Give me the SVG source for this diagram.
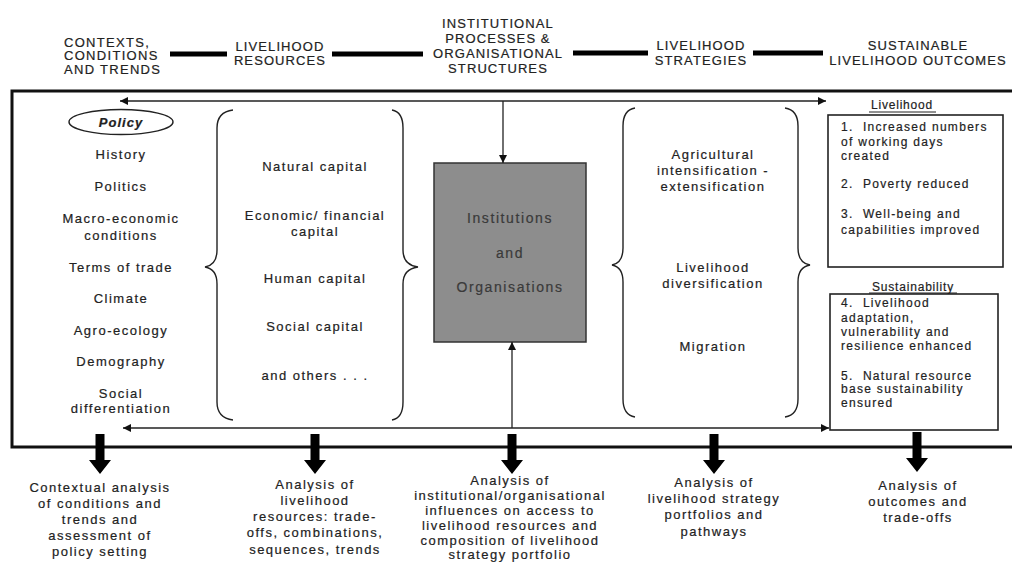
<svg xmlns="http://www.w3.org/2000/svg" width="1012" height="564" viewBox="0 0 1012 564">
<style>
text{font-family:"Liberation Sans",Arial,sans-serif;fill:#222;stroke:#222;stroke-width:0.2}
.hd{font-size:13px;letter-spacing:1.1px;text-anchor:middle}
.hdl{font-size:13px;letter-spacing:1.3px}
.b{font-size:13px;letter-spacing:1.5px;text-anchor:middle}
.r{font-size:12px;letter-spacing:1.3px}
.io{font-size:14px;letter-spacing:1.6px;text-anchor:middle;fill:#3a3a3a;stroke:#3a3a3a;stroke-width:0.2}
.bar{stroke:#000;stroke-width:5}
.frame{fill:none;stroke:#111;stroke-width:3}
.ln{fill:none;stroke:#222;stroke-width:1.3}
.brace{fill:none;stroke:#222;stroke-width:1.4}
.box{fill:#fff;stroke:#222;stroke-width:1.6}
.big{fill:#000}
</style>
<defs>
<marker id="ah" viewBox="0 0 10 10" refX="10" refY="5" markerWidth="10" markerHeight="8" markerUnits="userSpaceOnUse" orient="auto-start-reverse">
<path d="M0,0 L10,5 L0,10 z" fill="#111"/>
</marker>
<path id="bigarrow" d="M-4.5,0 L4.5,0 L4.5,26 L11,26 L0,40 L-11,26 L-4.5,26 z"/>
</defs>

<g id="header">
<text class="hdl" x="64" y="47">CONTEXTS,</text>
<text class="hdl" x="64" y="60">CONDITIONS</text>
<text class="hdl" x="64" y="74">AND TRENDS</text>
<line class="bar" x1="170" y1="54" x2="227" y2="54"/>
<text class="hd" x="280" y="51">LIVELIHOOD</text>
<text class="hd" x="280" y="65">RESOURCES</text>
<line class="bar" x1="332" y1="54" x2="423" y2="54"/>
<text class="hd" x="498" y="28">INSTITUTIONAL</text>
<text class="hd" x="498" y="43">PROCESSES &amp;</text>
<text class="hd" x="498" y="58">ORGANISATIONAL</text>
<text class="hd" x="498" y="73">STRUCTURES</text>
<line class="bar" x1="573" y1="53" x2="648" y2="53"/>
<text class="hd" x="701" y="50">LIVELIHOOD</text>
<text class="hd" x="701" y="65">STRATEGIES</text>
<line class="bar" x1="753" y1="53" x2="823" y2="53"/>
<text class="hd" x="918" y="50">SUSTAINABLE</text>
<text class="hd" x="918" y="65">LIVELIHOOD OUTCOMES</text>
</g>

<g id="frame">
<path class="frame" d="M1012,91 L12,91 L12,447 L1012,447"/>
</g>

<g id="contexts">
<ellipse cx="121" cy="122" rx="52" ry="12.5" fill="none" stroke="#222" stroke-width="1.4"/>
<text class="b" x="121" y="127" style="font-weight:bold;font-style:italic;letter-spacing:1px">Policy</text>
<text class="b" x="121" y="159">History</text>
<text class="b" x="121" y="191">Politics</text>
<text class="b" x="121" y="223">Macro-economic</text>
<text class="b" x="121" y="240">conditions</text>
<text class="b" x="121" y="272">Terms of trade</text>
<text class="b" x="121" y="303">Climate</text>
<text class="b" x="121" y="335">Agro-ecology</text>
<text class="b" x="121" y="366">Demography</text>
<text class="b" x="121" y="398">Social</text>
<text class="b" x="121" y="413">differentiation</text>
</g>

<g id="resources">
<path class="brace" d="M233,110 Q217,112 217,128 L217,250 Q217,265 205,267 Q217,269 217,284 L217,402 Q217,418 233,420"/>
<path class="brace" d="M392,110 Q403,112 403,128 L403,250 Q403,265 418,267 Q403,269 403,284 L403,402 Q403,418 392,420"/>
<text class="b" x="315" y="171">Natural capital</text>
<text class="b" x="315" y="220">Economic/ financial</text>
<text class="b" x="315" y="236">capital</text>
<text class="b" x="315" y="283">Human capital</text>
<text class="b" x="315" y="331">Social capital</text>
<text class="b" x="315" y="380">and others . . .</text>
</g>

<g id="institutions">
<rect x="434" y="163" width="152" height="179" fill="#8d8d8d" stroke="#333" stroke-width="1.5"/>
<text class="io" x="510" y="223">Institutions</text>
<text class="io" x="510" y="258">and</text>
<text class="io" x="510" y="292">Organisations</text>
</g>

<g id="strategies">
<path class="brace" d="M635,108 Q623,110 623,126 L623,248 Q623,263 612,265 Q623,267 623,282 L623,399 Q623,415 635,417"/>
<path class="brace" d="M785,108 Q798,110 798,126 L798,248 Q798,263 810,265 Q798,267 798,282 L798,399 Q798,415 785,417"/>
<text class="b" x="713" y="159">Agricultural</text>
<text class="b" x="713" y="175">intensification -</text>
<text class="b" x="713" y="191">extensification</text>
<text class="b" x="713" y="272">Livelihood</text>
<text class="b" x="713" y="288">diversification</text>
<text class="b" x="713" y="351">Migration</text>
</g>

<g id="outcomes-livelihood">
<text class="r" x="902" y="109" text-anchor="middle" style="letter-spacing:0.8px">Livelihood</text>
<line x1="869" y1="112" x2="936" y2="112" stroke="#222" stroke-width="1"/>
<rect class="box" x="828" y="115" width="175" height="152"/>
<text class="r" x="841" y="131" xml:space="preserve">1.  Increased numbers</text>
<text class="r" x="841" y="146">of working days</text>
<text class="r" x="841" y="160">created</text>
<text class="r" x="841" y="188" xml:space="preserve">2.  Poverty reduced</text>
<text class="r" x="841" y="218" xml:space="preserve">3.  Well-being and</text>
<text class="r" x="841" y="234">capabilities improved</text>
</g>

<g id="outcomes-sustainability">
<text class="r" x="913" y="291" text-anchor="middle" style="letter-spacing:0.8px">Sustainability</text>
<line x1="869" y1="293" x2="957" y2="293" stroke="#222" stroke-width="1"/>
<rect class="box" x="830" y="294" width="168" height="136"/>
<text class="r" x="841" y="307" xml:space="preserve">4.  Livelihood</text>
<text class="r" x="841" y="322">adaptation,</text>
<text class="r" x="841" y="336">vulnerability and</text>
<text class="r" x="841" y="350">resilience enhanced</text>
<text class="r" x="841" y="380" xml:space="preserve">5.  Natural resource</text>
<text class="r" x="841" y="393">base sustainability</text>
<text class="r" x="841" y="407">ensured</text>
</g>

<g id="connectors">
<line class="ln" x1="120" y1="101" x2="826" y2="101" marker-start="url(#ah)" marker-end="url(#ah)"/>
<line class="ln" x1="503" y1="101" x2="503" y2="163" marker-end="url(#ah)"/>
<line class="ln" x1="123" y1="428" x2="829" y2="428" marker-start="url(#ah)" marker-end="url(#ah)"/>
<line class="ln" x1="512" y1="428" x2="512" y2="342" marker-end="url(#ah)"/>
<use href="#bigarrow" class="big" x="100" y="434"/>
<use href="#bigarrow" class="big" x="315" y="434"/>
<use href="#bigarrow" class="big" x="512" y="434"/>
<use href="#bigarrow" class="big" x="714" y="434"/>
<use href="#bigarrow" class="big" x="917" y="432"/>
</g>

<g id="analysis">
<text class="b" x="100" y="492">Contextual analysis</text>
<text class="b" x="100" y="508">of conditions and</text>
<text class="b" x="100" y="524">trends and</text>
<text class="b" x="100" y="540">assessment of</text>
<text class="b" x="100" y="556">policy setting</text>
<text class="b" x="315" y="489">Analysis of</text>
<text class="b" x="315" y="505">livelihood</text>
<text class="b" x="315" y="521">resources: trade-</text>
<text class="b" x="315" y="537">offs, combinations,</text>
<text class="b" x="315" y="554">sequences, trends</text>
<text class="b" x="510" y="485">Analysis of</text>
<text class="b" x="510" y="500">institutional/organisational</text>
<text class="b" x="510" y="515">influences on access to</text>
<text class="b" x="510" y="530">livelihood resources and</text>
<text class="b" x="510" y="545">composition of livelihood</text>
<text class="b" x="510" y="559">strategy portfolio</text>
<text class="b" x="714" y="487">Analysis of</text>
<text class="b" x="714" y="503">livelihood strategy</text>
<text class="b" x="714" y="519">portfolios and</text>
<text class="b" x="714" y="536">pathways</text>
<text class="b" x="918" y="490">Analysis of</text>
<text class="b" x="918" y="506">outcomes and</text>
<text class="b" x="918" y="522">trade-offs</text>
</g>
</svg>
